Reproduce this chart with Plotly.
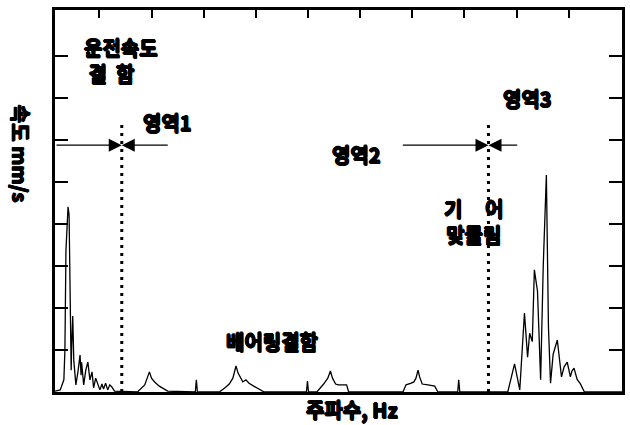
import plotly.graph_objects as go

# ---- spectrum data (frequency in Hz, velocity in mm/s) ----
freq_hz = [
    15, 25, 32, 34, 36, 40, 42, 44, 46, 47, 49, 51, 55, 59, 63, 65, 66, 70, 74, 78,
    82, 86, 89, 93, 97, 101, 105, 108, 112, 116, 120, 124, 129,
    173, 187, 192, 196, 200, 206, 215, 231,
    284, 286, 288,
    330, 341, 349, 356, 362, 366, 370, 375, 381, 387, 396, 410, 416,
    497, 499, 501,
    517, 530, 538, 543, 547, 553, 558, 574, 578,
    682, 688, 698, 703, 707, 711, 714, 719, 730, 743, 749,
    787, 789, 791,
    883, 896, 906, 915, 921, 925, 930, 934, 940, 946, 951, 957, 961, 965, 970,
    978, 986, 991, 997, 1003, 1006, 1010, 1016, 1022, 1030, 1102,
]
velocity_mms = [
    0.02, 0.05, 0.29, 1.0, 3.38, 4.41, 4.22, 2.19, 0.52, 1.1, 1.81, 0.76, 0.17, 0.48, 0.88, 0.40, 0.71, 0.17, 0.52, 0.71,
    0.29, 0.48, 0.10, 0.33, 0.21, 0.05, 0.19, 0.07, 0.21, 0.05, 0.17, 0.12, 0.02,
    0.0, 0.17, 0.36, 0.48, 0.33, 0.24, 0.14, 0.02,
    0.0, 0.29, 0.0,
    0.0, 0.10, 0.19, 0.33, 0.62, 0.45, 0.36, 0.24, 0.29, 0.21, 0.14, 0.05, 0.0,
    0.0, 0.26, 0.0,
    0.0, 0.19, 0.33, 0.50, 0.33, 0.19, 0.17, 0.17, 0.0,
    0.0, 0.17, 0.21, 0.24, 0.33, 0.52, 0.36, 0.19, 0.17, 0.14, 0.0,
    0.0, 0.29, 0.0,
    0.0, 0.67, 0.05, 1.88, 0.83, 1.40, 1.20, 2.91, 2.40, 0.29, 3.00, 5.17, 1.55, 0.21, 0.90,
    1.24, 0.36, 0.60, 0.71, 0.36, 0.50, 0.57, 0.30, 0.20, 0.0, 0.0,
]

# region boundaries (Hz) and the level of the region arrows (mm/s)
boundary_hz = [143, 846]
boundary_top = [6.36, 6.48]
arrow_level = 5.88
arrow_tails_hz = [[15, 234], [679, 904]]

x_tick_vals = [100, 200, 300, 400, 500, 600, 700, 800, 900, 1000]
y_tick_vals = [1, 2, 3, 4, 5, 6, 7, 8]
x_range = [15, 1102]
y_range = [0, 9.1]

NB = "\u00a0"
# text labels: (text, freq, velocity, align)
labels = [
    ("운전속도<br>" + NB + "결" + NB * 2 + "함", 142, 7.9, "left"),
    ("영역1", 230, 6.43, "center"),
    ("영역2", 593, 5.65, "center"),
    ("영역3", 921, 7.00, "center"),
    ("기" + NB * 5 + "어<br>맞물림", 819, 4.07, "center"),
    ("베어링결함", 431, 1.21, "center"),
]

FONT = "Noto Sans CJK KR"
HEAVY = ("0.7px 0 0 black, -0.7px 0 0 black, 0 0.6px 0 black, 0 -0.6px 0 black, "
         "0.5px 0.5px 0 black, -0.5px -0.5px 0 black")
TXT = dict(family=FONT, size=20, color="black", weight="bold", shadow=HEAVY)

fig = go.Figure()

# spectrum
fig.add_trace(go.Scatter(
    x=freq_hz, y=velocity_mms, mode="lines",
    line=dict(color="black", width=1.3),
    hoverinfo="skip", showlegend=False,
))

# dotted boundary lines
for bx, bt in zip(boundary_hz, boundary_top):
    fig.add_trace(go.Scatter(
        x=[bx, bx], y=[0, bt], mode="lines",
        line=dict(color="black", width=3, dash="3px,5px"),
        hoverinfo="skip", showlegend=False,
    ))

annotations = []
# region arrows
for bx, tails in zip(boundary_hz, arrow_tails_hz):
    for tx in tails:
        annotations.append(dict(
            x=bx, y=arrow_level, ax=tx, ay=arrow_level,
            xref="x", yref="y", axref="x", ayref="y",
            text="", showarrow=True, arrowhead=2, arrowsize=2.0,
            arrowwidth=1.3, arrowcolor="black", standoff=0, startstandoff=0,
        ))

for txt, fx, fy, al in labels:
    annotations.append(dict(
        x=fx, y=fy, xref="x", yref="y", text=txt, showarrow=False,
        font=TXT, align=al, xanchor="center", yanchor="middle",
    ))

# axis titles
annotations.append(dict(
    x=0.5246, y=-0.047, xref="paper", yref="paper", text="주파수, Hz",
    showarrow=False, font=TXT, xanchor="center", yanchor="middle",
))
annotations.append(dict(
    x=-0.0596, y=0.623, xref="paper", yref="paper", text="속도 mm/s",
    showarrow=False, textangle=90, font=TXT,
    xanchor="center", yanchor="middle",
))

fig.update_layout(
    width=630, height=425,
    margin=dict(l=55, r=5, t=10, b=33),
    paper_bgcolor="white", plot_bgcolor="white",
    showlegend=False,
    annotations=annotations,
    xaxis=dict(
        range=x_range, side="top", tickvals=x_tick_vals, showticklabels=False,
        ticks="inside", ticklen=8, tickwidth=2, tickcolor="black",
        showline=True, linecolor="black", linewidth=3, mirror=True,
        showgrid=False, zeroline=False,
    ),
    yaxis=dict(
        range=y_range, tickvals=y_tick_vals, showticklabels=False,
        ticks="inside", ticklen=13, tickwidth=2, tickcolor="black",
        showline=True, linecolor="black", linewidth=3, mirror="ticks",
        showgrid=False, zeroline=False,
    ),
)

fig.write_html(
    "out.html",
    config={"displayModeBar": False, "staticPlot": True},
    post_script="document.body.style.margin='0px';document.body.style.overflow='hidden';",
)
